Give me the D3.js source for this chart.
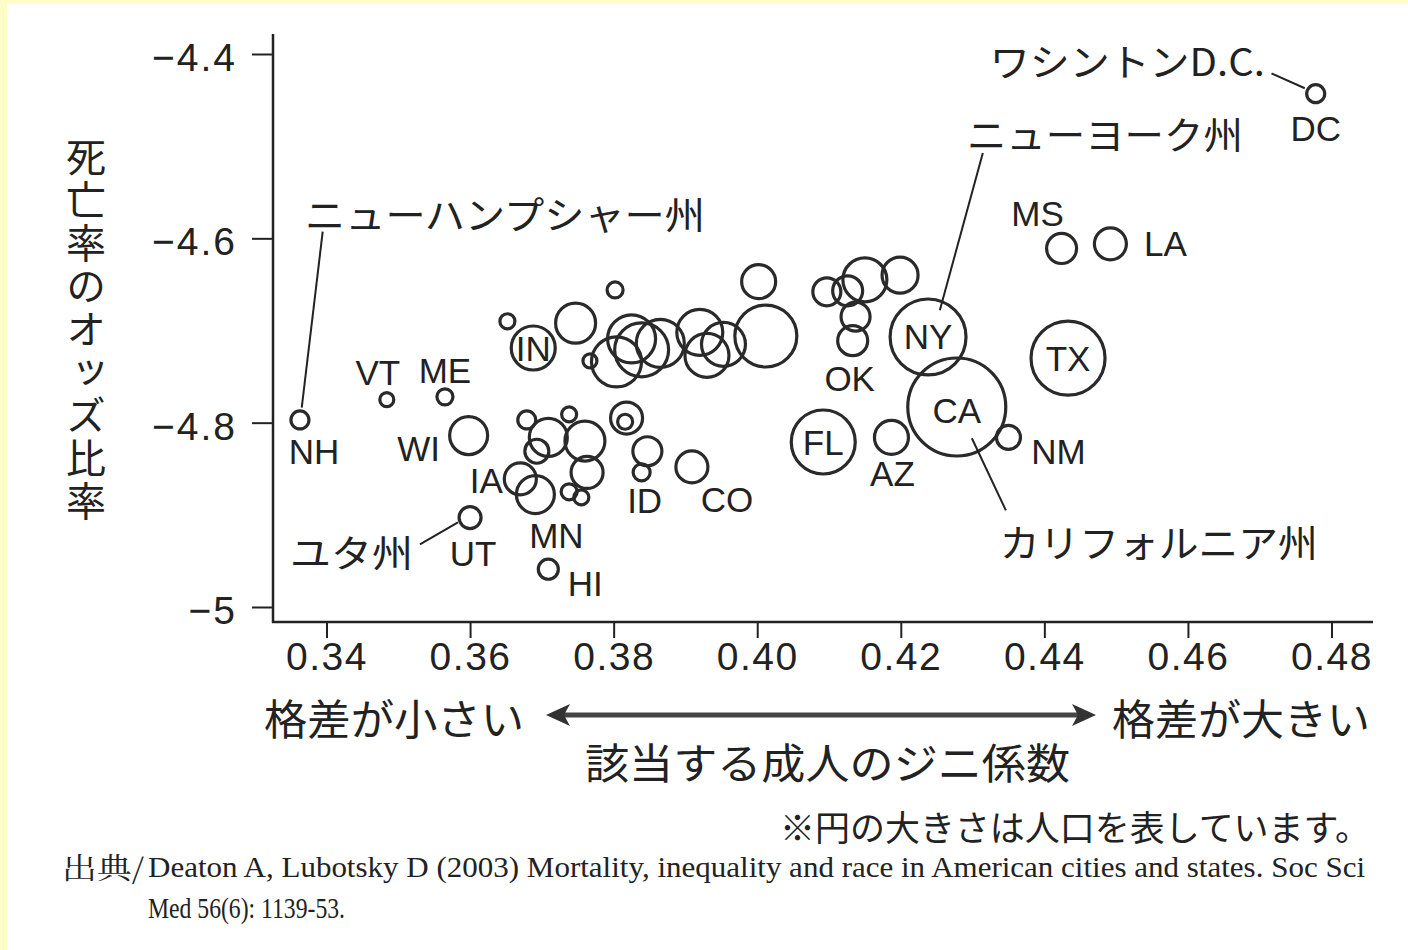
<!DOCTYPE html>
<html><head><meta charset="utf-8">
<script src="https://cdn.jsdelivr.net/npm/d3@7/dist/d3.min.js"></script>
<style>body{margin:0;background:#fff}svg{display:block}</style>
</head><body>
<svg id="c" width="1408" height="950"></svg>
<script>
// ---------------- data ----------------
const states = ["DC","MS","LA","TX","NY","CA","NM","AZ","FL","OK",
  "","","","","",
  "NH","VT","ME","WI","UT","HI","IN",
  "","","","","","","","","","","","","","","","","","","",
  "IA","MN",
  "","","","","",
  "ID","CO"];
const gini = [0.4778,0.4424,0.4492,0.4433,0.4238,0.4278,0.4350,0.4187,0.4092,0.4133,
  0.4137,0.4097,0.4126,0.4150,0.4199,
  0.3363,0.3484,0.3565,0.3598,0.3600,0.3709,0.3688,
  0.3652,0.3747,0.3802,0.4002,0.3767,0.3825,0.3804,0.3839,0.3865,0.3920,0.3930,0.3953,0.4012,
  0.3679,0.3709,0.3738,0.3693,0.3760,0.3763,
  0.3670,0.3691,
  0.3738,0.3755,0.3818,0.3816,0.3847,
  0.3839,0.3909];
const mortality = [-4.443,-4.611,-4.606,-4.730,-4.707,-4.783,-4.816,-4.816,-4.821,-4.711,
  -4.685,-4.658,-4.657,-4.645,-4.640,
  -4.797,-4.775,-4.772,-4.814,-4.903,-4.959,-4.719,
  -4.690,-4.692,-4.656,-4.647,-4.733,-4.709,-4.734,-4.721,-4.714,-4.702,-4.727,-4.715,-4.706,
  -4.797,-4.816,-4.791,-4.831,-4.820,-4.854,
  -4.861,-4.878,
  -4.875,-4.881,-4.795,-4.799,-4.831,
  -4.854,-4.848];
const population = [1.15,3.19,3.63,19.4,20.4,34.0,2.04,4.09,14.5,3.19,
  2.98,2.78,3.19,6.85,4.59,
  1.15,0.69,0.91,5.11,1.71,1.42,6.85,
  0.80,5.66,0.91,4.09,0.69,8.16,8.85,10.3,8.16,7.49,6.85,6.85,13.6,
  1.15,5.11,0.80,2.04,5.66,3.63,
  3.63,5.11,
  0.91,0.80,3.63,0.80,2.98,
  1.02,3.63];
const xTicks = [0.34,0.36,0.38,0.40,0.42,0.44,0.46,0.48];
const xTickLabels = ["0.34","0.36","0.38","0.40","0.42","0.44","0.46","0.48"];
const yTicks = [-4.4,-4.6,-4.8,-5];
const yTickLabels = ["\u22124.4","\u22124.6","\u22124.8","\u22125"];

// callouts: text, text anchor point (data), line start, line end (data)
const calloutText = ["ニューハンプシャー州","ワシントンD.C.","ニューヨーク州","カリフォルニア州","ユタ州"];
const calloutGini = [0.33701,0.47071,0.42921,0.43380,0.33492];
const calloutMort = [-4.5716,-4.4065,-4.4847,-4.9277,-4.9385];
const leaderFrom = [[0.33947,-4.5928],[0.47164,-4.4210],[0.43143,-4.5075],[0.42990,-4.8169],[0.35302,-4.9320]];
const leaderTo   = [[0.33655,-4.7838],[0.47628,-4.4372],[0.42544,-4.6780],[0.43464,-4.8951],[0.35831,-4.9081]];

const yTitle = "死亡率のオッズ比率";
const xTitle = "該当する成人のジニ係数";
const leftNote = "格差が小さい";
const rightNote = "格差が大きい";
const sizeNote = "※円の大きさは人口を表しています。";
const srcLabel = "出典/";
const srcLine1 = "Deaton A, Lubotsky D (2003) Mortality, inequality and race in American cities and states. Soc Sci";
const srcLine2 = "Med 56(6): 1139-53.";

// ---------------- layout / style ----------------
const labelOffset = {DC:[0,35],MS:[-24,-35],LA:[55,0],TX:[0,0],NY:[0,0],CA:[0,4],NM:[50,14],AZ:[1,36],
  FL:[0,0],OK:[-3,38],NH:[14,32],VT:[-9,-27],ME:[0,-26],WI:[-50,13],UT:[3,36],HI:[37,14],IN:[0,0],
  IA:[-34,2],MN:[21,41],ID:[3,28],CO:[35,33]};
const calloutAnchor = ["start","end","start","start","start"];
const calloutLen = [400,275,276,318,123];
const INK = "#222";
const LATIN = "'Liberation Sans', Arial, sans-serif";
const JP = "'Noto Sans CJK JP', sans-serif";

const svg = d3.select("#c");
svg.append("rect").attr("width",1408).attr("height",950).attr("fill","#fff");
svg.append("rect").attr("x",0).attr("y",0).attr("width",7).attr("height",950).attr("fill","#fffcc6");
svg.append("rect").attr("x",0).attr("y",0).attr("width",1408).attr("height",4).attr("fill","#fffcc6");

const x = d3.scaleLinear().domain([0.34,0.48]).range([326.5,1331.5]);
const y = d3.scaleLinear().domain([-5,-4.4]).range([607,54]);
const r = d3.scaleSqrt().domain([0,34]).range([0,49]);
const axisX0 = 273, axisY0 = 622, axisTop = 34, axisRight = 1373;

// axes lines
svg.append("line").attr("x1",axisX0).attr("x2",axisX0).attr("y1",axisTop).attr("y2",axisY0+1)
  .attr("stroke",INK).attr("stroke-width",2.5);
svg.append("line").attr("x1",axisX0-1).attr("x2",axisRight).attr("y1",axisY0).attr("y2",axisY0)
  .attr("stroke",INK).attr("stroke-width",2.5);

const gx = svg.append("g").attr("transform",`translate(0,${axisY0})`)
  .call(d3.axisBottom(x).tickValues(xTicks).tickSize(16).tickPadding(4)
    .tickFormat((d,i)=>xTickLabels[i]));
gx.select(".domain").remove();
gx.selectAll("line").attr("stroke",INK).attr("stroke-width",2);
gx.selectAll("text").attr("fill",INK).style("font-family",LATIN).style("font-size","39px")
  .style("letter-spacing","1.5px");

const gy = svg.append("g").attr("transform",`translate(${axisX0},0)`)
  .call(d3.axisLeft(y).tickValues(yTicks).tickSize(21).tickPadding(15)
    .tickFormat((d,i)=>yTickLabels[i]));
gy.select(".domain").remove();
gy.selectAll("line").attr("stroke",INK).attr("stroke-width",2);
gy.selectAll("text").attr("fill",INK).attr("dy","0.42em").style("font-family",LATIN).style("font-size","39px")
  .style("letter-spacing","2px");

// points
const pts = states.map((s,i)=>({s, g:gini[i], m:mortality[i], p:population[i]}));
svg.append("g").selectAll("circle").data(pts).join("circle")
  .attr("cx",d=>x(d.g)).attr("cy",d=>y(d.m)).attr("r",d=>r(d.p))
  .attr("fill","none").attr("stroke","#2a2a2a").attr("stroke-width",3.2);

// state labels
svg.append("g").selectAll("text").data(pts.filter(d=>d.s && labelOffset[d.s])).join("text")
  .attr("x",d=>x(d.g)+labelOffset[d.s][0]).attr("y",d=>y(d.m)+labelOffset[d.s][1])
  .attr("text-anchor","middle").attr("dominant-baseline","central")
  .attr("fill",INK).style("font-family",LATIN).style("font-size","35px")
  .text(d=>d.s);

// callouts
calloutText.forEach((t,i)=>{
  svg.append("line")
    .attr("x1",x(leaderFrom[i][0])).attr("y1",y(leaderFrom[i][1]))
    .attr("x2",x(leaderTo[i][0])).attr("y2",y(leaderTo[i][1]))
    .attr("stroke",INK).attr("stroke-width",2);
  svg.append("text").attr("x",x(calloutGini[i])).attr("y",y(calloutMort[i]))
    .attr("text-anchor",calloutAnchor[i]).attr("dominant-baseline","central")
    .attr("textLength",calloutLen[i]).attr("lengthAdjust","spacingAndGlyphs")
    .attr("fill",INK).style("font-family",JP).style("font-size","38px").text(t);
});

// y title, vertical (single text element)
svg.append("text").attr("x",86).attr("y",137)
  .style("writing-mode","vertical-rl").style("text-orientation","upright")
  .style("letter-spacing","3px")
  .attr("fill",INK).style("font-family",JP).style("font-size","40px").text(yTitle);

// x notes and arrow
svg.append("text").attr("x",264).attr("y",716).attr("dominant-baseline","central")
  .attr("textLength",260).attr("lengthAdjust","spacingAndGlyphs")
  .attr("fill",INK).style("font-family",JP).style("font-size","42px").text(leftNote);
svg.append("text").attr("x",1112).attr("y",716).attr("dominant-baseline","central")
  .attr("textLength",258).attr("lengthAdjust","spacingAndGlyphs")
  .attr("fill",INK).style("font-family",JP).style("font-size","42px").text(rightNote);
const ay = 715, ax1 = 546, ax2 = 1096;
svg.append("line").attr("x1",ax1+18).attr("x2",ax2-18).attr("y1",ay).attr("y2",ay)
  .attr("stroke","#444").attr("stroke-width",5);
svg.append("path").attr("d",`M${ax1},${ay} L${ax1+24},${ay-11} L${ax1+18},${ay} L${ax1+24},${ay+11} Z`).attr("fill","#333");
svg.append("path").attr("d",`M${ax2},${ay} L${ax2-24},${ay-11} L${ax2-18},${ay} L${ax2-24},${ay+11} Z`).attr("fill","#333");

svg.append("text").attr("x",585).attr("y",760).attr("dominant-baseline","central")
  .attr("textLength",485).attr("lengthAdjust","spacingAndGlyphs")
  .attr("fill",INK).style("font-family",JP).style("font-size","42px").text(xTitle);

svg.append("text").attr("x",780).attr("y",825).attr("dominant-baseline","central")
  .attr("textLength",590).attr("lengthAdjust","spacingAndGlyphs")
  .attr("fill",INK).style("font-family",JP).style("font-size","35px").text(sizeNote);

// source
svg.append("text").attr("x",62).attr("y",866).attr("dominant-baseline","central")
  .attr("textLength",82).attr("lengthAdjust","spacingAndGlyphs")
  .attr("fill",INK).style("font-family","'Noto Serif CJK JP','Noto Sans CJK JP',serif").style("font-size","29px").text(srcLabel);
svg.append("text").attr("x",148).attr("y",866).attr("dominant-baseline","central")
  .attr("textLength",1217).attr("lengthAdjust","spacingAndGlyphs")
  .attr("fill",INK).style("font-family","'Liberation Serif','Times New Roman',serif").style("font-size","30px").text(srcLine1);
svg.append("text").attr("x",148).attr("y",907).attr("dominant-baseline","central")
  .attr("textLength",197).attr("lengthAdjust","spacingAndGlyphs")
  .attr("fill",INK).style("font-family","'Liberation Serif','Times New Roman',serif").style("font-size","30px").text(srcLine2);
</script>
</body></html>
